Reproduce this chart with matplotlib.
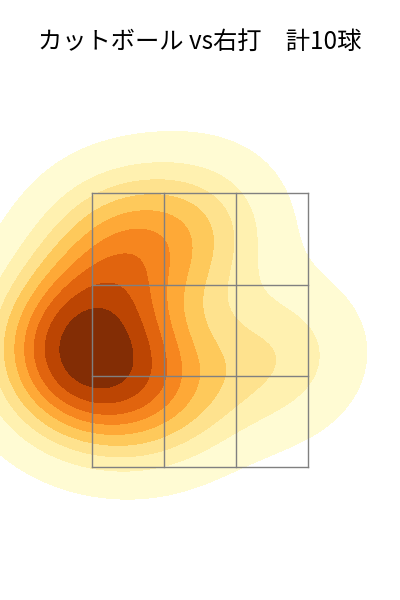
import matplotlib
matplotlib.use("Agg")
import matplotlib.pyplot as plt
import seaborn as sns

plt.rcParams['font.family'] = ['Noto Sans CJK JP', 'DejaVu Sans']

# pitch locations (ft): horizontal, height
px = [-0.95, -0.90, -0.82, -1.00, -0.55, -0.45, 0.00, 0.60, -0.70, -0.20]
pz = [2.30, 2.42, 2.20, 2.55, 2.05, 3.05, 3.25, 2.30, 3.15, 2.05]

zone_x = [-0.83, -0.277, 0.277, 0.83]
zone_z = [1.5, 2.167, 2.833, 3.5]

fig = plt.figure(figsize=(4, 6), dpi=100)
ax = fig.add_axes([0, 0, 1, 1])
sns.kdeplot(x=px, y=pz, fill=True, cmap="YlOrBr", levels=10, thresh=0.05,
            bw_adjust=1.25, ax=ax)

for xv in zone_x:
    ax.plot([xv, xv], [zone_z[0], zone_z[-1]], color="gray", lw=1)
for zv in zone_z:
    ax.plot([zone_x[0], zone_x[-1]], [zv, zv], color="gray", lw=1)

ax.set_xlim(-1.53, 1.53)
ax.set_ylim(0.53, 4.91)
ax.axis("off")
fig.text(0.5, 0.93, "カットボール vs右打　計10球", ha="center", va="center", fontsize=17.5)
fig.savefig("out.png")
